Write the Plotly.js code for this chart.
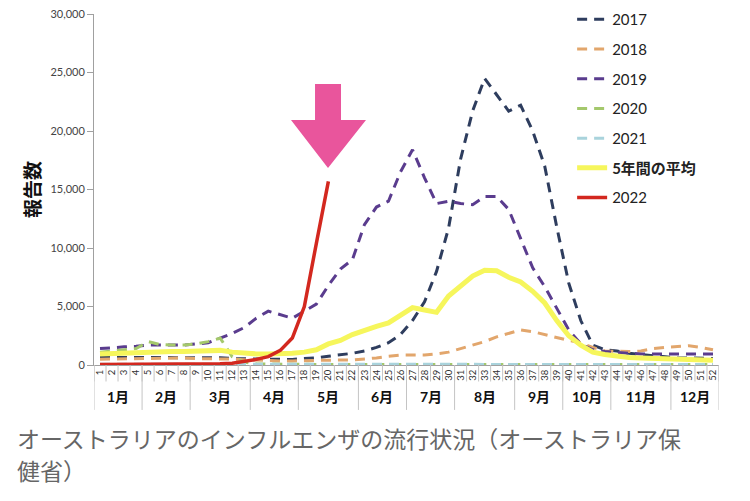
<!DOCTYPE html>
<html>
<head>
<meta charset="utf-8">
<script src="https://cdn.plot.ly/plotly-3.0.1.min.js"></script>
<style>
  body { margin: 0; background: #fff; }
  #graph { width: 750px; height: 501px; }
</style>
</head>
<body>
<div id="graph"></div>
<script>
// weekly influenza reports, Australia (weeks 1-52)
var weeks = [];
for (let w = 1; w <= 52; w++) weeks.push(w);

var y2017 = [650,650,650,650,650,650,650,650,650,650,620,550,520,500,500,480,480,520,620,750,
  850,1000,1200,1500,1900,2600,3800,5400,8000,11700,17600,21700,24500,23100,21700,22200,20000,17000,11800,7000,
  3800,1700,1300,1200,1000,900,800,700,600,600,600,550];
var y2018 = [500,520,550,550,600,600,600,600,550,550,550,500,450,400,380,350,350,380,400,430,
  430,430,500,600,750,850,850,850,950,1100,1400,1700,2000,2400,2700,3000,2850,2600,2300,2100,
  1900,1500,1200,1150,1150,1200,1400,1500,1600,1650,1500,1300];
var y2019 = [1400,1500,1550,1600,1700,1700,1700,1700,1800,1900,2300,2700,3200,4000,4600,4300,4000,4600,5200,6800,
  8200,9000,12000,13500,14000,16500,18400,16000,13800,14000,13800,13700,14400,14400,13300,10800,8300,6700,4800,3000,
  1800,1300,1150,1050,1000,950,950,950,1000,1000,1000,950];
var y2020 = [1100,1200,1300,1400,2000,1750,1700,1700,1800,2000,2300,700,250,100,80,60,50,50,50,50,
  50,50,50,50,50,50,50,50,50,50,50,50,50,50,50,50,50,50,50,50,
  50,50,50,50,50,50,50,50,50,50,50,50];
var y2021 = [60,60,50,50,40,40,40,40,40,40,40,40,40,40,40,40,50,50,50,50,
  50,60,60,60,60,60,70,70,70,70,70,70,70,60,60,60,50,50,50,50,
  50,50,50,50,50,50,50,50,50,50,50,50];
var yAvg = [950,1000,1050,1100,1150,1150,1150,1150,1200,1250,1250,1100,1000,950,950,950,1000,1100,1300,1800,
  2100,2600,3000,3300,3600,4300,4900,4700,4500,5900,6800,7600,8100,8050,7500,7100,6300,5300,3800,2500,
  1700,1100,900,750,650,600,550,500,450,450,400,400];
var y2022 = [50,50,50,50,50,50,50,60,70,80,100,150,280,480,720,1250,2300,5000,10400,15700];

var months = ['1月','2月','3月','4月','5月','6月','7月','8月','9月','10月','11月','12月'];
var weeksPerMonth = [4,4,5,4,5,4,4,5,4,4,5,4];

var yTicks = [0,5000,10000,15000,20000,25000,30000];

var captionLines = ['オーストラリアのインフルエンザの流行状況（オーストラリア保', '健省）'];

var latin = 'Lato, "Noto Sans CJK JP", sans-serif';
var cjk = '"Noto Sans CJK JP", sans-serif';
var dashPat = '10px,7px';

function dashed(name, y, color, i) {
  return {x: weeks, y: y, name: name, type: 'scatter', mode: 'lines',
    legendgroup: 'g' + i,
    line: {color: color, width: 3, dash: dashPat}};
}

var data = [
  dashed('2017', y2017, '#2e3d5e', 1),
  dashed('2018', y2018, '#e2a66c', 2),
  dashed('2019', y2019, '#5a3c8e', 3),
  dashed('2020', y2020, '#a4c86c', 4),
  dashed('2021', y2021, '#a9d3dc', 5),
  {x: weeks, y: yAvg, name: '<b>5年間の平均</b>', type: 'scatter', mode: 'lines', legendgroup: 'g6',
    line: {color: '#f6f65c', width: 5}},
  {x: weeks.slice(0, y2022.length), y: y2022, name: '2022', type: 'scatter', mode: 'lines', legendgroup: 'g7',
    line: {color: '#d3281f', width: 3.5}}
];

// divider lines under the axis
var shapes = [];
for (let w = 0; w <= 52; w++) {
  shapes.push({type: 'line', xref: 'x', yref: 'paper', x0: w + 0.5, x1: w + 0.5, y0: 0, y1: -0.047,
    line: {color: '#c4c4c4', width: 1}});
}
var annotations = [];
var start = 0.5;
shapes.push({type: 'line', xref: 'x', yref: 'paper', x0: start, x1: start, y0: 0, y1: -0.128,
  line: {color: '#c4c4c4', width: 1}});
for (let m = 0; m < months.length; m++) {
  let end = start + weeksPerMonth[m];
  shapes.push({type: 'line', xref: 'x', yref: 'paper', x0: end, x1: end, y0: 0, y1: -0.128,
    line: {color: '#c4c4c4', width: 1}});
  annotations.push({xref: 'x', yref: 'paper', x: (start + end) / 2, y: -0.091, yanchor: 'middle',
    text: '<b>' + months[m] + '</b>', showarrow: false, font: {family: latin, size: 14, color: '#111'}});
  start = end;
}

// pink arrow
shapes.push({type: 'path', xref: 'x', yref: 'y', layer: 'above',
  path: 'M 18.89 24017 L 21.05 24017 L 21.05 20940 L 23.13 20940 L 19.97 16838 L 16.89 20940 L 18.89 20940 Z',
  fillcolor: '#e9559c', line: {width: 0}});

// caption, two lines
captionLines.forEach(function(t, i) {
  annotations.push({xref: 'paper', yref: 'paper', x: -0.1264, y: -0.208 - i * 0.09,
    xanchor: 'left', yanchor: 'middle', align: 'left', showarrow: false,
    text: t, font: {family: cjk, size: 23, color: '#666'}});
});

var layout = {
  width: 750, height: 501,
  margin: {l: 94, r: 31, t: 14, b: 136, autoexpand: false},
  paper_bgcolor: '#fff', plot_bgcolor: '#fff',
  showlegend: true,
  hovermode: false,
  legend: {x: 0.765, y: 1.031, xanchor: 'left', yanchor: 'top', bgcolor: 'rgba(0,0,0,0)',
    tracegroupgap: 7.2, font: {family: latin, size: 15, color: '#222'}},
  xaxis: {range: [0.5, 52.5], tickvals: weeks, ticktext: weeks.map(String), tickangle: -90,
    ticks: '', showgrid: false, zeroline: false, showline: true, linecolor: '#a0a0a0', linewidth: 1,
    automargin: false, tickfont: {family: latin, size: 9.5, color: '#333'}},
  yaxis: {range: [0, 30000], tickvals: yTicks, tickformat: ',d', ticks: 'outside', ticklen: 6,
    tickcolor: '#a0a0a0', showgrid: false, zeroline: false, showline: true, linecolor: '#a0a0a0',
    automargin: false, tickfont: {family: latin, size: 11, color: '#444'},
    title: {text: '<b>報告数</b>', standoff: 4, font: {family: cjk, size: 19, color: '#111'}}},
  shapes: shapes,
  annotations: annotations
};

Plotly.newPlot('graph', data, layout, {staticPlot: true});
</script>
</body>
</html>
